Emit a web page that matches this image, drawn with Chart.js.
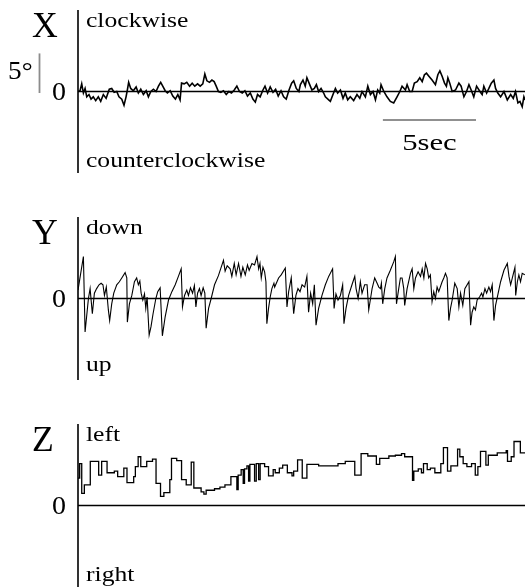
<!DOCTYPE html>
<html>
<head>
<meta charset="utf-8">
<script src="https://cdn.jsdelivr.net/npm/chart.js@4.4.0/dist/chart.umd.min.js"></script>
<style>
  html, body { margin: 0; padding: 0; background: #fff; }
  #wrap { position: relative; width: 525px; height: 588px; overflow: hidden; }
  #wrap canvas { position: absolute; left: 0; }
</style>
</head>
<body>
<div id="wrap">
  <canvas id="panelX" width="525" height="200" style="top:0"></canvas>
  <canvas id="panelY" width="525" height="200" style="top:200px"></canvas>
  <canvas id="panelZ" width="525" height="188" style="top:400px"></canvas>
</div>
<script>
// eye position traces, [time in s, angle in degrees]
// X: torsional (clockwise +), Y: vertical (down +), Z: horizontal (left +)
const torsionTrace = [
  [0.00,0.0],[0.11,0.1],[0.20,1.0],[0.29,-0.2],[0.38,0.4],[0.47,-0.7],[0.59,-0.4],[0.70,-1.0],[0.82,-0.7],[0.95,-1.2],
  [1.09,-0.7],[1.22,-1.3],[1.36,-0.4],[1.51,-0.9],[1.68,0.3],[1.81,0.4],[1.94,-0.1],[2.08,0.0],[2.20,-0.7],[2.35,-1.0],
  [2.47,-1.8],[2.58,-0.7],[2.65,0.2],[2.72,1.2],[2.83,0.4],[2.97,0.1],[3.12,0.6],[3.24,-0.2],[3.37,0.3],[3.51,-0.4],
  [3.66,0.1],[3.78,-0.7],[3.91,0.0],[4.05,0.3],[4.19,0.0],[4.32,0.7],[4.44,1.2],[4.55,0.7],[4.68,0.1],[4.80,-0.2],
  [4.95,0.1],[5.09,-0.6],[5.23,-1.0],[5.36,-0.4],[5.48,-1.1],[5.56,1.1],[5.70,1.0],[5.84,1.2],[5.99,0.7],[6.13,1.1],
  [6.27,0.7],[6.42,1.0],[6.56,0.7],[6.70,1.0],[6.81,2.3],[6.92,1.4],[7.06,1.2],[7.19,1.5],[7.31,1.3],[7.42,0.7],
  [7.54,0.0],[7.67,-0.1],[7.81,0.1],[7.96,-0.4],[8.10,0.0],[8.24,-0.2],[8.39,0.2],[8.53,0.7],[8.67,0.0],[8.82,-0.2],
  [8.96,0.1],[9.10,-0.6],[9.25,-0.2],[9.39,-1.0],[9.52,-1.4],[9.64,-0.4],[9.78,-0.7],[9.93,0.2],[10.04,0.7],[10.18,-0.2],
  [10.32,0.6],[10.47,-0.1],[10.61,0.3],[10.75,-0.6],[10.90,0.1],[11.04,-0.7],[11.18,-1.0],[11.33,0.2],[11.47,1.1],[11.58,1.4],
  [11.72,0.4],[11.86,0.0],[11.94,0.9],[12.08,1.5],[12.20,0.7],[12.29,1.8],[12.44,0.9],[12.56,0.2],[12.69,0.4],[12.80,0.9],
  [12.92,0.0],[13.05,0.4],[13.19,-0.2],[13.28,-0.7],[13.46,-1.1],[13.55,-1.3],[13.69,-0.4],[13.82,0.4],[13.94,-0.2],[14.09,0.2],
  [14.23,-0.9],[14.35,-0.2],[14.48,-1.1],[14.62,-0.7],[14.80,-1.2],[14.98,-0.4],[15.13,-0.9],[15.25,0.0],[15.43,-0.7],[15.56,0.7],
  [15.70,-0.4],[15.84,0.0],[15.97,-1.1],[16.09,0.2],[16.20,-0.2],[16.27,0.9],[16.42,0.0],[16.59,-0.7],[16.77,-1.3],[16.95,-1.5],
  [17.13,-0.7],[17.28,0.0],[17.40,0.7],[17.58,0.2],[17.67,0.9],[17.81,0.0],[17.94,0.0],[18.06,1.1],[18.21,1.3],[18.35,1.8],
  [18.48,1.3],[18.60,2.2],[18.71,2.4],[18.84,2.0],[19.01,1.5],[19.19,0.9],[19.32,2.2],[19.43,2.7],[19.55,2.0],[19.68,1.1],
  [19.78,0.7],[19.86,1.8],[19.96,1.1],[20.09,0.0],[20.27,0.2],[20.45,1.1],[20.57,0.7],[20.72,-0.7],[20.86,0.0],[20.99,0.9],
  [21.11,0.2],[21.25,-0.7],[21.40,0.7],[21.58,0.0],[21.70,-0.4],[21.79,0.7],[21.94,-0.2],[22.06,0.4],[22.19,1.1],[22.33,1.5],
  [22.42,0.4],[22.54,-0.2],[22.69,-0.7],[22.87,0.0],[23.05,-1.1],[23.23,-0.4],[23.37,-0.9],[23.49,0.0],[23.62,-1.5],[23.73,-1.3],
  [23.85,-2.0],[23.94,-0.7],[24.00,-1.1]
];

const verticalTrace = [
  [0.00,1.1],[0.29,5.5],[0.38,-4.4],[0.56,0.0],[0.65,1.3],[0.77,-2.0],[0.88,0.7],[1.00,1.3],[1.13,1.8],[1.24,2.0],
  [1.34,1.8],[1.42,0.4],[1.52,1.5],[1.63,-1.5],[1.70,-2.9],[1.81,-0.7],[1.92,0.7],[2.08,1.8],[2.22,2.2],[2.35,2.7],
  [2.53,3.4],[2.62,2.7],[2.65,-3.1],[2.76,-0.7],[2.89,0.4],[3.03,2.2],[3.15,2.7],[3.24,1.8],[3.32,2.3],[3.39,0.7],
  [3.48,-0.2],[3.57,0.6],[3.64,-1.3],[3.71,0.2],[3.82,-4.8],[3.92,-3.7],[4.03,-2.0],[4.18,0.0],[4.28,0.9],[4.41,1.4],
  [4.53,-4.9],[4.68,-2.4],[4.86,-0.2],[5.04,0.9],[5.22,1.8],[5.39,2.9],[5.54,3.9],[5.61,-1.1],[5.72,0.4],[5.84,1.1],
  [5.93,0.4],[6.04,1.4],[6.15,0.7],[6.25,1.7],[6.33,-1.1],[6.42,0.7],[6.52,1.3],[6.61,0.4],[6.72,1.4],[6.81,0.7],
  [6.88,-3.9],[7.01,-1.3],[7.15,0.0],[7.33,1.8],[7.54,3.0],[7.81,5.0],[7.90,3.6],[8.01,4.3],[8.17,3.9],[8.26,2.9],
  [8.39,4.6],[8.49,3.1],[8.62,4.6],[8.75,2.9],[8.85,4.1],[8.98,3.1],[9.10,4.4],[9.19,3.7],[9.34,4.6],[9.48,4.4],
  [9.61,5.5],[9.70,3.9],[9.77,4.6],[9.84,2.7],[9.93,4.1],[10.02,3.5],[10.09,2.2],[10.14,-3.3],[10.23,-1.3],[10.32,0.2],
  [10.41,1.3],[10.52,2.0],[10.56,1.5],[10.77,2.7],[10.91,3.1],[11.13,4.0],[11.22,-1.1],[11.31,0.9],[11.45,2.7],[11.58,-2.0],
  [11.70,0.4],[11.81,1.3],[11.92,0.9],[12.03,1.8],[12.17,1.5],[12.29,2.9],[12.38,-1.8],[12.49,0.7],[12.60,-0.7],[12.69,1.8],
  [12.78,-3.5],[12.92,-1.3],[13.10,0.4],[13.28,1.8],[13.46,2.9],[13.67,3.9],[13.75,-1.3],[13.85,0.6],[13.96,-0.2],[14.09,0.4],
  [14.21,1.8],[14.28,-3.3],[14.39,-1.3],[14.53,0.4],[14.71,1.8],[14.86,2.9],[14.93,1.3],[15.04,0.0],[15.16,2.2],[15.25,0.7],
  [15.39,1.8],[15.52,1.8],[15.61,-1.5],[15.72,0.2],[15.79,1.3],[15.93,2.7],[16.06,2.0],[16.15,1.5],[16.24,1.3],[16.29,2.0],
  [16.36,-0.7],[16.47,1.3],[16.59,2.7],[16.77,3.7],[16.95,4.8],[17.04,5.5],[17.10,-0.7],[17.22,1.3],[17.31,2.7],[17.40,2.7],
  [17.49,1.3],[17.54,-0.9],[17.67,1.3],[17.85,3.3],[17.94,3.9],[18.03,1.3],[18.12,2.7],[18.26,3.5],[18.39,2.9],[18.48,3.9],
  [18.57,2.7],[18.66,4.6],[18.75,3.9],[18.83,2.7],[18.92,3.1],[19.01,-0.4],[19.10,0.9],[19.19,0.0],[19.28,1.5],[19.37,0.9],
  [19.55,2.2],[19.64,2.7],[19.73,3.3],[19.82,2.7],[19.91,-2.9],[20.00,-1.3],[20.09,-0.2],[20.23,2.0],[20.36,1.3],[20.45,-1.1],
  [20.54,0.7],[20.66,-0.9],[20.77,1.3],[20.99,2.2],[21.08,-3.5],[21.16,-1.8],[21.25,-1.1],[21.34,-1.5],[21.43,-0.2],[21.56,0.2],
  [21.67,0.7],[21.74,0.2],[21.85,1.3],[21.94,0.7],[22.06,1.5],[22.15,0.9],[22.24,1.8],[22.33,-2.9],[22.42,-0.9],[22.56,0.7],
  [22.69,2.2],[22.87,3.7],[23.05,4.6],[23.14,2.9],[23.23,1.8],[23.32,2.7],[23.46,4.1],[23.50,0.4],[23.59,2.2],[23.67,3.1],
  [23.76,2.2],[23.85,3.3],[23.99,3.1]
];

// horizontal position holds between fast jumps: each entry is the level from that time on
const horizontalTrace = [
  [0.00,3.6],[0.09,5.5],[0.20,1.6],[0.34,2.7],[0.66,5.8],[1.11,4.0],[1.27,5.8],[1.56,4.3],[1.95,4.5],[2.13,3.8],
  [2.46,4.9],[2.63,3.0],[2.99,3.8],[3.08,5.1],[3.23,6.4],[3.37,5.1],[3.69,5.8],[4.00,6.1],[4.19,2.9],[4.43,1.2],
  [4.61,1.7],[4.93,3.4],[5.02,6.2],[5.30,5.9],[5.56,3.4],[5.81,2.7],[6.08,5.7],[6.22,2.3],[6.61,1.8],[6.76,1.5],
  [6.88,2.0],[7.33,2.2],[7.62,2.4],[7.89,2.7],[8.21,3.8],[8.53,2.1],[8.60,4.0],[8.76,4.7],[8.87,2.9],[8.94,4.8],
  [9.07,5.2],[9.16,3.2],[9.23,5.4],[9.48,3.2],[9.57,5.5],[9.70,3.4],[9.78,5.5],[10.02,5.1],[10.23,3.9],[10.48,4.7],
  [10.59,4.3],[10.81,4.9],[10.99,5.3],[11.24,4.3],[11.49,3.9],[11.58,4.5],[11.79,6.0],[12.04,3.6],[12.29,5.4],[12.92,5.2],
  [13.96,5.5],[14.35,5.8],[14.86,4.0],[15.20,6.8],[15.56,6.5],[16.02,5.4],[16.20,6.2],[16.69,6.5],[17.04,6.6],[17.37,6.8],
  [17.54,6.4],[17.96,3.3],[18.03,4.5],[18.27,4.8],[18.44,4.3],[18.55,5.5],[18.75,4.7],[18.92,4.9],[19.16,4.3],[19.48,5.5],
  [19.62,7.6],[19.84,4.5],[20.02,5.2],[20.38,7.4],[20.50,6.4],[20.68,5.5],[20.88,5.1],[21.13,5.5],[21.33,4.0],[21.47,5.1],
  [21.61,7.1],[21.90,5.3],[22.03,6.6],[22.51,6.9],[22.99,7.2],[23.06,5.8],[23.26,6.4],[23.41,8.4],[23.75,6.9],[24.00,6.9]
];

const panelLetters = ['X', 'Y', 'Z'];
const upperLabels = ['clockwise', 'down', 'left'];
const lowerLabels = ['counterclockwise', 'up', 'right'];

const timeSpan = [0, 24];          // seconds across the plot
const angleSpan = [-10.7, 10.7];   // degrees, same for all three panels
const angleBar = 5;                // calibration bar, degrees
const timeBar = [16.37, 21.37];    // calibration bar, seconds

const serif = '"Liberation Serif", "Times New Roman", Times, serif';

// the printed lettering is a little wider than the stock serif, so stretch it
function stretchedText(ctx, str, x, y, size, sx, align) {
    ctx.save();
    ctx.font = size + 'px ' + serif;
    ctx.textAlign = align || 'left';
    ctx.textBaseline = 'alphabetic';
    ctx.fillStyle = '#000';
    ctx.translate(x, y);
    ctx.scale(sx, 1);
    ctx.fillText(str, 0, 0);
    ctx.restore();
}

// axis stem, zero line, direction words and the scale bars
const panelDecor = {
    id: 'panelDecor',
    beforeDatasetsDraw(chart, args, opts) {
        const ctx = chart.ctx;
        const a = chart.chartArea;
        const x = chart.scales.x;
        const y = chart.scales.y;
        const zero = y.getPixelForValue(0);

        ctx.save();
        ctx.strokeStyle = '#000';
        ctx.lineWidth = 1.6;
        ctx.beginPath();
        ctx.moveTo(a.left, a.top);
        ctx.lineTo(a.left, a.bottom);
        ctx.moveTo(a.left, zero);
        ctx.lineTo(a.right, zero);
        ctx.stroke();
        ctx.restore();

        stretchedText(ctx, opts.letter, 32, a.top + 27, 35, 1.02, 'left');
        stretchedText(ctx, opts.upper, 86, a.top + 16.5, 21, 1.22, 'left');
        stretchedText(ctx, opts.lower, 86, a.bottom - opts.lowerGap, 21, 1.22, 'left');
        stretchedText(ctx, '0', 66, zero + 8.5, 25, 1.12, 'right');

        if (opts.scaleBars) {
            ctx.save();
            // 5 degree bar
            ctx.strokeStyle = '#8c8c8c';
            ctx.lineWidth = 1.8;
            ctx.beginPath();
            ctx.moveTo(39.5, y.getPixelForValue(0) + 1.5);
            ctx.lineTo(39.5, y.getPixelForValue(angleBar));
            ctx.stroke();
            // 5 second bar
            ctx.strokeStyle = '#222';
            ctx.lineWidth = 1.2;
            const bx0 = x.getPixelForValue(timeBar[0]);
            const bx1 = x.getPixelForValue(timeBar[1]);
            ctx.beginPath();
            ctx.moveTo(bx0, a.top + 110);
            ctx.lineTo(bx1, a.top + 110);
            ctx.stroke();
            ctx.restore();

            stretchedText(ctx, angleBar + '\u00B0', 8, 79, 26, 1.05, 'left');
            stretchedText(ctx, (timeBar[1] - timeBar[0]) + 'sec', (bx0 + bx1) / 2, a.top + 140, 24, 1.28, 'center');
        }
    }
};

function makePanel(canvasId, trace, idx, lineWidth, stepped, padding, lowerGap) {
    const ctx = document.getElementById(canvasId).getContext('2d');
    return new Chart(ctx, {
        type: 'line',
        data: {
            datasets: [{
                data: trace.map(p => ({ x: p[0], y: p[1] })),
                borderColor: '#000',
                borderWidth: lineWidth,
                pointRadius: 0,
                tension: 0,
                stepped: stepped,
                fill: false
            }]
        },
        options: {
            responsive: false,
            animation: false,
            devicePixelRatio: 1,
            layout: { padding: padding },
            scales: {
                x: { type: 'linear', min: timeSpan[0], max: timeSpan[1], display: false },
                y: { min: angleSpan[0], max: angleSpan[1], display: false }
            },
            plugins: {
                legend: { display: false },
                tooltip: { enabled: false },
                panelDecor: {
                    letter: panelLetters[idx],
                    upper: upperLabels[idx],
                    lower: lowerLabels[idx],
                    lowerGap: lowerGap,
                    scaleBars: idx === 0
                }
            }
        },
        plugins: [panelDecor]
    });
}

function drawAll() {
    makePanel('panelX', torsionTrace, 0, 1.6, false, { left: 78, right: 0, top: 10, bottom: 27 }, 6);
    makePanel('panelY', verticalTrace, 1, 1.1, false, { left: 78, right: 0, top: 17, bottom: 20 }, 9);
    makePanel('panelZ', horizontalTrace, 2, 1.3, true, { left: 78, right: 0, top: 24, bottom: 1 }, 6);
}

// make sure the serif face is ready before the canvases paint their lettering
Promise.all([
    document.fonts.load('21px "Liberation Serif"'),
    document.fonts.load('35px "Liberation Serif"')
]).then(drawAll, drawAll);
</script>
</body>
</html>
